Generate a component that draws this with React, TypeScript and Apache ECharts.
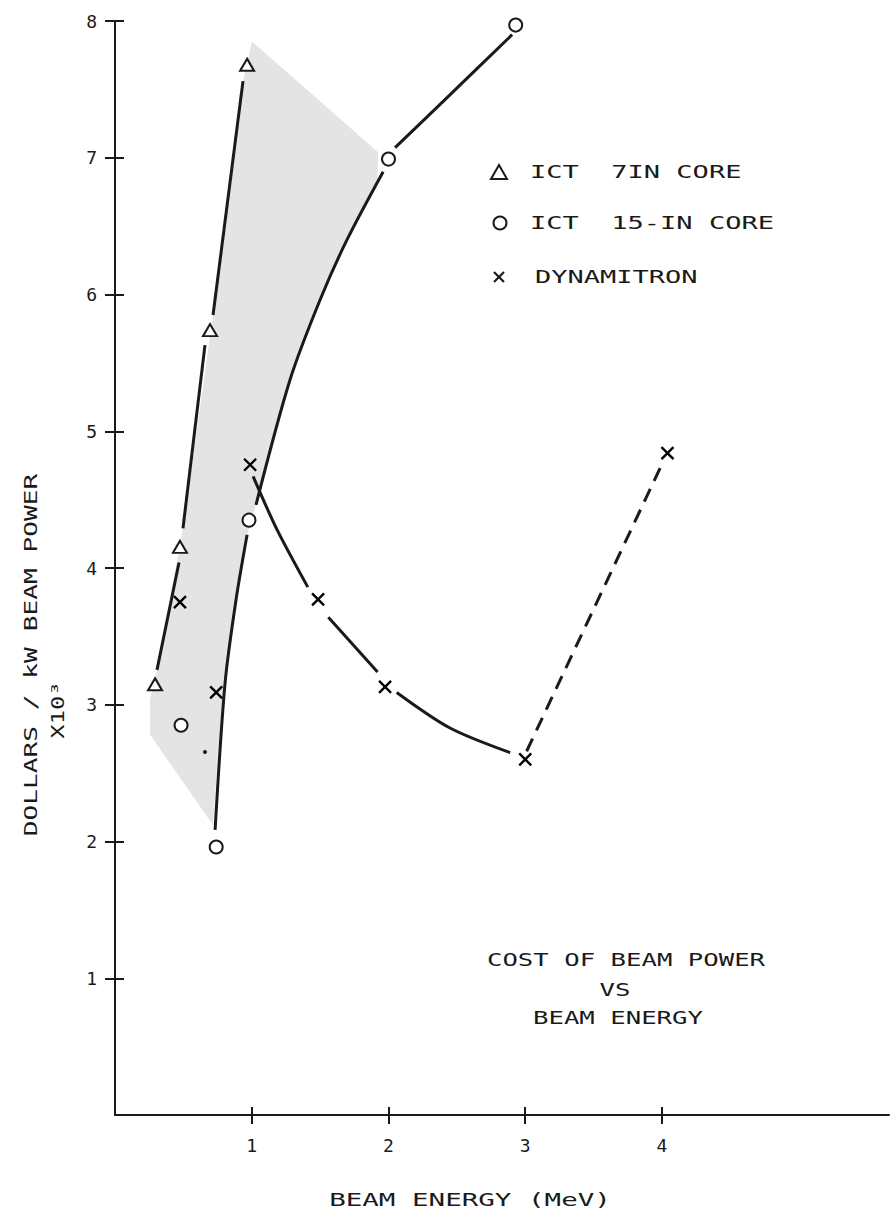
import React, { useEffect, useRef } from "react";
import * as echarts from "echarts";

// ---- axis ticks ----
const xTickValues = [1, 2, 3, 4];
const yTickValues = [1, 2, 3, 4, 5, 6, 7, 8];

// ---- measured points (MeV, $/kW x10^3) ----
const ict7Points = [
  [0.293, 3.15],
  [0.475, 4.155],
  [0.695, 5.74],
  [0.966, 7.68],
];
const ict15Points = [
  [0.483, 2.85],
  [0.74, 1.96],
  [0.98, 4.35],
  [2.0, 6.99],
  [2.93, 7.97],
];
const dynPoints = [
  [0.475, 3.75],
  [0.74, 3.09],
  [0.988, 4.755],
  [1.485, 3.77],
  [1.975, 3.13],
  [3.0, 2.6],
  [4.04, 4.84],
];
const strayDot = [[0.658, 2.655]];

// ---- hand-drawn curves (segments, broken at markers) ----
const ict7Curve = [
  [[0.307, 3.255], [0.468, 4.04]],
  [[0.497, 4.29], [0.658, 5.63]],
  [[0.717, 5.85], [0.936, 7.56]],
];
const ict15Curve = [
  [[0.732, 2.085], [0.805, 3.16], [0.885, 3.767], [0.966, 4.243]],
  [[1.031, 4.462], [1.28, 5.377], [1.5, 5.962], [1.697, 6.401], [1.961, 6.898]],
  [[2.048, 7.074], [2.451, 7.462], [2.904, 7.9]],
];
const dynCurve = [
  [[1.01, 4.67], [1.185, 4.28], [1.41, 3.86]],
  [[1.56, 3.64], [1.92, 3.24]],
  [[2.06, 3.09], [2.45, 2.83], [2.89, 2.65]],
];
const dynDashed = [[3.01, 2.66], [4.0, 4.76]];

// ---- shaded band ----
const shadeRegion = [
  [1.002, 7.85],
  [0.936, 7.56],
  [0.717, 5.85],
  [0.497, 4.29],
  [0.307, 3.255],
  [0.256, 3.04],
  [0.256, 2.78],
  [0.717, 2.12],
  [0.753, 2.64],
  [0.805, 3.16],
  [0.885, 3.767],
  [0.966, 4.243],
  [1.031, 4.462],
  [1.28, 5.377],
  [1.5, 5.962],
  [1.697, 6.401],
  [1.92, 6.84],
  [1.924, 7.04],
];

// ---- texts ----
const legendLabels = ["ICT  7IN CORE", "ICT  15-IN CORE", "DYNAMITRON"];
const noteLines = ["COST OF BEAM POWER", "VS", "BEAM ENERGY"];
const xAxisTitle = "BEAM ENERGY (MeV)";
const yAxisTitle = "DOLLARS / kW BEAM POWER";
const yAxisUnit = "X10³";

const INK = "#1a1a1a";
const MONO = "'DejaVu Sans Mono', monospace";

function txt(text: string, x: number, y: number, sx: number, align: string, rotation = 0, size = 17) {
  return {
    type: "text",
    x,
    y,
    scaleX: sx,
    rotation,
    silent: true,
    style: {
      text,
      fill: INK,
      fontFamily: MONO,
      fontSize: size,
      align,
      verticalAlign: "middle",
      textAlign: align,
      textVerticalAlign: "middle",
    },
  };
}

export default function App() {
  const ref = useRef<HTMLDivElement>(null);

  useEffect(() => {
    if (!ref.current) return;
    const chart = echarts.init(ref.current, null, { renderer: "svg" });

    const lineSeries: any[] = [];
    const addCurve = (segs: number[][][], dashed = false) => {
      segs.forEach((seg) => {
        lineSeries.push({
          type: "line",
          data: seg,
          smooth: seg.length > 2 ? 0.3 : false,
          symbol: "none",
          silent: true,
          z: 3,
          lineStyle: { color: INK, width: 3, type: dashed ? [14, 9] : "solid" },
        });
      });
    };
    addCurve(ict7Curve);
    addCurve(ict15Curve);
    addCurve(dynCurve);
    addCurve([dynDashed], true);

    const axisCommon = {
      type: "value",
      splitLine: { show: false },
      axisLine: { show: true, onZero: false, lineStyle: { color: INK, width: 2 } },
    };

    const option: any = {
      animation: false,
      backgroundColor: "#ffffff",
      grid: { left: 115, top: 21, right: 2, bottom: 101, containLabel: false },
      xAxis: [
        {
          ...axisCommon,
          min: 0,
          max: 5.66,
          axisTick: { show: true, length: 9, customValues: xTickValues, lineStyle: { color: INK, width: 2 } },
          axisLabel: {
            show: true,
            customValues: xTickValues,
            margin: 21,
            color: INK,
            fontFamily: MONO,
            fontSize: 18,
          },
        },
        {
          ...axisCommon,
          position: "bottom",
          min: 0,
          max: 5.66,
          axisLine: { show: false },
          axisTick: { show: true, inside: true, length: 8, customValues: xTickValues, lineStyle: { color: INK, width: 2 } },
          axisLabel: { show: false },
        },
      ],
      yAxis: [
        {
          ...axisCommon,
          min: 0,
          max: 8,
          axisTick: { show: true, length: 10, customValues: yTickValues, lineStyle: { color: INK, width: 2 } },
          axisLabel: {
            show: true,
            customValues: yTickValues,
            margin: 18,
            color: INK,
            fontFamily: MONO,
            fontSize: 18,
          },
        },
        {
          ...axisCommon,
          position: "left",
          min: 0,
          max: 8,
          axisLine: { show: false },
          axisTick: { show: true, inside: true, length: 9, customValues: yTickValues, lineStyle: { color: INK, width: 2 } },
          axisLabel: { show: false },
        },
      ],
      series: [
        {
          type: "custom",
          silent: true,
          z: 1,
          data: [[0, 0]],
          renderItem: (_p: any, api: any) => ({
            type: "polygon",
            shape: { points: shadeRegion.map((p) => api.coord(p)) },
            style: { fill: "#e4e4e4", stroke: "none" },
          }),
        },
        ...lineSeries,
        {
          name: legendLabels[0],
          type: "scatter",
          z: 5,
          data: ict7Points,
          symbol: "triangle",
          symbolSize: [14, 12],
          itemStyle: { color: "#ffffff", borderColor: INK, borderWidth: 2, opacity: 1 },
        },
        {
          name: legendLabels[1],
          type: "scatter",
          z: 5,
          data: ict15Points,
          symbol: "circle",
          symbolSize: 13,
          itemStyle: { color: "#ffffff", borderColor: INK, borderWidth: 2, opacity: 1 },
        },
        {
          name: legendLabels[2],
          type: "scatter",
          z: 5,
          data: dynPoints,
          symbol: "path://M0 0L10 10M10 0L0 10",
          symbolSize: 12,
          itemStyle: { color: "transparent", borderColor: "#000", borderWidth: 2.4, opacity: 1 },
        },
        {
          type: "scatter",
          z: 5,
          data: strayDot,
          symbol: "circle",
          symbolSize: 4,
          itemStyle: { color: INK, opacity: 1 },
        },
      ],
      graphic: [
        // legend icons
        {
          type: "polygon",
          silent: true,
          shape: { points: [[499, 165], [507, 179], [491, 179]] },
          style: { fill: "#fff", stroke: INK, lineWidth: 2 },
        },
        {
          type: "circle",
          silent: true,
          shape: { cx: 500, cy: 223, r: 6.5 },
          style: { fill: "#fff", stroke: INK, lineWidth: 2 },
        },
        {
          type: "line",
          silent: true,
          shape: { x1: 494, y1: 272, x2: 504, y2: 282 },
          style: { stroke: INK, lineWidth: 2.2 },
        },
        {
          type: "line",
          silent: true,
          shape: { x1: 504, y1: 272, x2: 494, y2: 282 },
          style: { stroke: INK, lineWidth: 2.2 },
        },
        txt(legendLabels[0], 530, 172, 1.59, "left"),
        txt(legendLabels[1], 530, 223, 1.59, "left"),
        txt(legendLabels[2], 535, 277, 1.59, "left"),
        // annotation
        txt(noteLines[0], 626, 960, 1.51, "center"),
        txt(noteLines[1], 615, 990, 1.51, "center"),
        txt(noteLines[2], 618, 1018, 1.51, "center"),
        // axis titles
        txt(xAxisTitle, 470, 1200, 1.62, "center"),
        txt(yAxisTitle, 31, 655, 1.54, "center", Math.PI / 2),
        txt(yAxisUnit, 58, 710, 1.4, "center", Math.PI / 2),
      ],
    };

    chart.setOption(option);
    return () => chart.dispose();
  }, []);

  return (
    <div
      ref={ref}
      style={{ position: "absolute", left: 0, top: 0, width: 891, height: 1216, background: "#fff" }}
    />
  );
}
